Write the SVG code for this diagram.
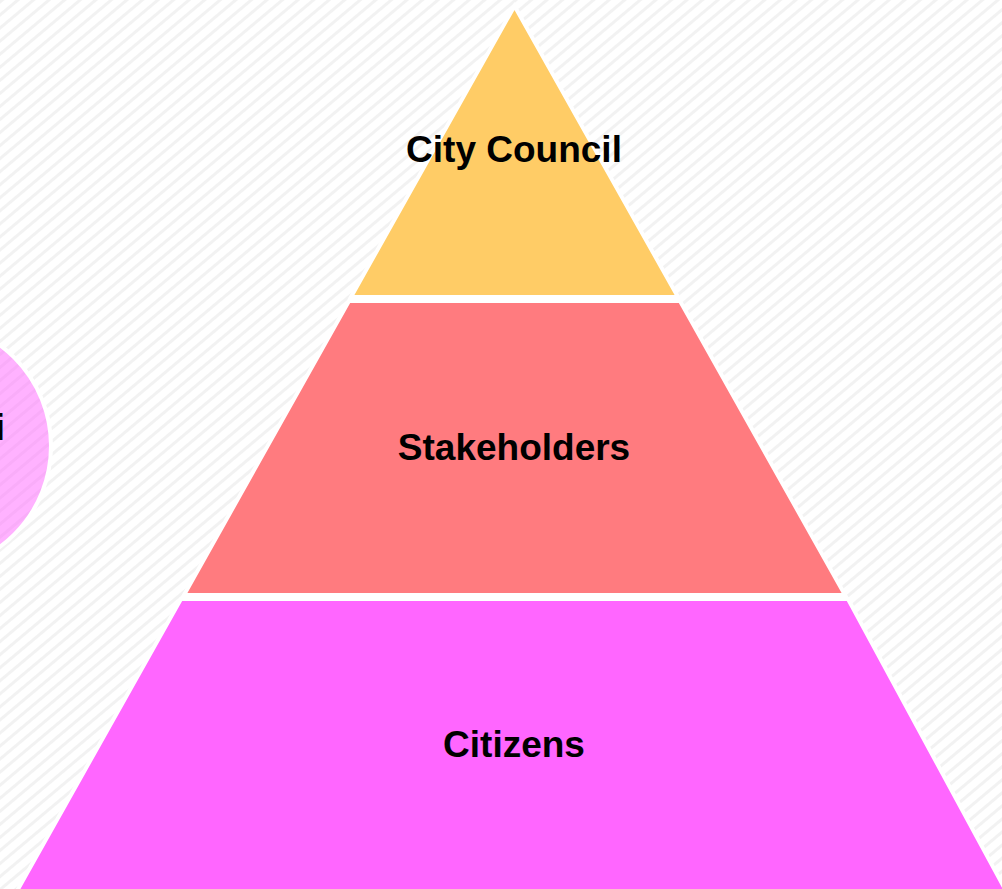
<svg xmlns="http://www.w3.org/2000/svg" width="1002" height="889" viewBox="0 0 1002 889">
  <defs>
    <pattern id="stripes" patternUnits="userSpaceOnUse" width="10" height="10" patternTransform="rotate(-40)">
      <rect x="0" y="0" width="10" height="10" fill="#ffffff"/>
      <rect x="0" y="0" width="10" height="3" fill="#f2f2f2"/>
    </pattern>
    <style>
      .layer { stroke: #ffffff; stroke-width: 4; stroke-linejoin: miter; }
      .lbl { font-family: "Liberation Sans", Arial, sans-serif; font-weight: bold; font-size: 37px; fill: #000000; text-anchor: middle; }
    </style>
  </defs>
  <rect id="background" x="0" y="0" width="1002" height="889" fill="url(#stripes)"/>
  <g id="side-circle">
    <circle cx="-74" cy="446" r="125" fill="#ff66ff" fill-opacity="0.5" stroke="#ffffff" stroke-width="4"/>
    <text class="lbl" x="5" y="440" style="text-anchor:end">i</text>
  </g>
  <g id="layer-city-council">
    <polygon class="layer" fill="#ffcc66" points="514.5,6 351,297 678,297"/>
    <text class="lbl" x="514" y="162">City Council</text>
  </g>
  <g id="layer-stakeholders">
    <polygon class="layer" fill="#ff7b7f" points="349,301 680,301 845,595 184,595"/>
    <text class="lbl" x="514" y="460">Stakeholders</text>
  </g>
  <g id="layer-citizens">
    <polygon class="layer" fill="#ff66ff" points="181,599 848,599 1006,891 17,891"/>
    <text class="lbl" x="514" y="757">Citizens</text>
  </g>
  <g id="connectors"></g>
</svg>
